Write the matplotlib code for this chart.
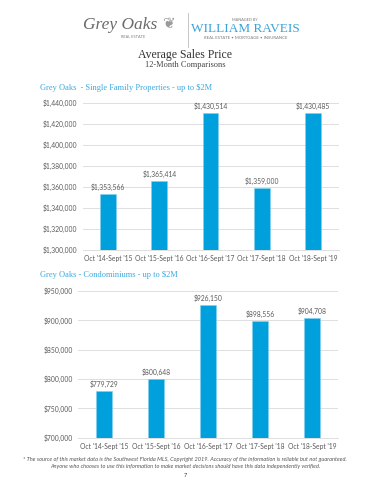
import matplotlib.pyplot as plt
from matplotlib.ticker import FuncFormatter

periods = ["Oct '14-Sept '15", "Oct '15-Sept '16", "Oct '16-Sept '17",
           "Oct '17-Sept '18", "Oct '18-Sept '19"]
single_family = [1353566, 1365414, 1430514, 1359000, 1430485]
condos = [779729, 800648, 926150, 898556, 904708]

BLUE = "#00A0DC"
GRAY = "#595959"
GRID = "#D9D9D9"
TITLE_BLUE = "#3BA9DE"
SANS = ["Lato", "DejaVu Sans"]
SERIF = ["Liberation Serif", "DejaVu Serif"]
TICK_FS = 4.9

W, H = 370, 480
fig = plt.figure(figsize=(3.7, 4.8), dpi=100)


def fx(px):
    return px / W


def fy(py):
    return 1 - py / H


def money(v, _pos=None):
    return f"${v:,.0f}"


def bar_panel(rect, values, ylim, step):
    ax = fig.add_axes(rect)
    x = range(len(values))
    ax.bar(x, values, width=0.31, color=BLUE, edgecolor="#7FD0EE", linewidth=0.4, zorder=3)
    ax.set_ylim(*ylim)
    ax.set_xlim(-0.5, len(values) - 0.5)
    ax.set_yticks(range(ylim[0], ylim[1] + 1, step))
    ax.yaxis.set_major_formatter(FuncFormatter(money))
    ax.set_xticks(list(x))
    ax.set_xticklabels(periods)
    ax.grid(axis="y", color=GRID, linewidth=0.6, zorder=0)
    for s in ax.spines.values():
        s.set_visible(False)
    ax.spines["bottom"].set_visible(True)
    ax.spines["bottom"].set_color(GRID)
    ax.spines["bottom"].set_linewidth(0.6)
    ax.tick_params(length=0, labelsize=TICK_FS, labelcolor=GRAY, pad=3.5)
    for lbl in ax.get_xticklabels() + ax.get_yticklabels():
        lbl.set_family(SANS)
    span = ylim[1] - ylim[0]
    for i, v in enumerate(values):
        ax.text(i, v + span * 0.02, money(v), ha="center", va="bottom",
                fontsize=TICK_FS, color=GRAY, family=SANS)
    return ax


bar_panel([fx(82.5), fy(250), fx(256), fy(103) - fy(250)],
          single_family, (1300000, 1440000), 20000)
bar_panel([fx(78), fy(437.7), fx(260), fy(291) - fy(437.7)],
          condos, (700000, 950000), 50000)

# header / logo
fig.text(fx(120), fy(25), "Grey Oaks", fontsize=12.5, style="italic", color="#6b6b6b",
         family=SERIF, ha="center", va="center")
fig.text(fx(168), fy(24), "\u2766", fontsize=11, color="#9a9a9a", ha="center", va="center",
         family=["DejaVu Sans"])
fig.text(fx(133), fy(37), "REAL ESTATE", fontsize=2.8, color="#7a7a7a", ha="center",
         va="center", family=SANS)
fig.add_artist(plt.Line2D([fx(188), fx(188)], [fy(13), fy(47)], color="#bdbdbd", lw=0.6))
fig.text(fx(245), fy(20), "MANAGED BY", fontsize=2.8, color="#7a7a7a", ha="center",
         va="center", family=SANS)
fig.text(fx(245), fy(29), "WILLIAM RAVEIS", fontsize=9.5, color="#3AA3D9", ha="center",
         va="center", family=SERIF)
fig.text(fx(246), fy(38), "REAL ESTATE \u2022 MORTGAGE \u2022 INSURANCE", fontsize=3.1,
         color="#7a7a7a", ha="center", va="center", family=SANS)

fig.text(fx(185), fy(55), "Average Sales Price", fontsize=8.5, color="#333333",
         ha="center", va="center", family=SERIF)
fig.text(fx(185), fy(65), "12-Month Comparisons", fontsize=6, color="#444444",
         ha="center", va="center", family=SERIF)
fig.text(fx(40), fy(88), "Grey Oaks  - Single Family Properties - up to $2M", fontsize=6,
         color=TITLE_BLUE, ha="left", va="center", family=SERIF)
fig.text(fx(40), fy(275), "Grey Oaks - Condominiums - up to $2M", fontsize=6,
         color=TITLE_BLUE, ha="left", va="center", family=SERIF)

fig.text(fx(185), fy(459.5), "* The source of this market data is the Southwest Florida MLS, "
         "Copyright 2019. Accuracy of the information is reliable but not guaranteed.",
         fontsize=4.1, style="italic", color="#555555", ha="center", va="center", family=SANS)
fig.text(fx(185), fy(466.5), "Anyone who chooses to use this information to make market "
         "decisions should have this data independently verified.",
         fontsize=4.1, style="italic", color="#555555", ha="center", va="center", family=SANS)
fig.text(fx(185), fy(475.5), "7", fontsize=4, color="#333333", ha="center", va="center",
         family=SANS)

fig.savefig("out.png", dpi=100, facecolor="white")
